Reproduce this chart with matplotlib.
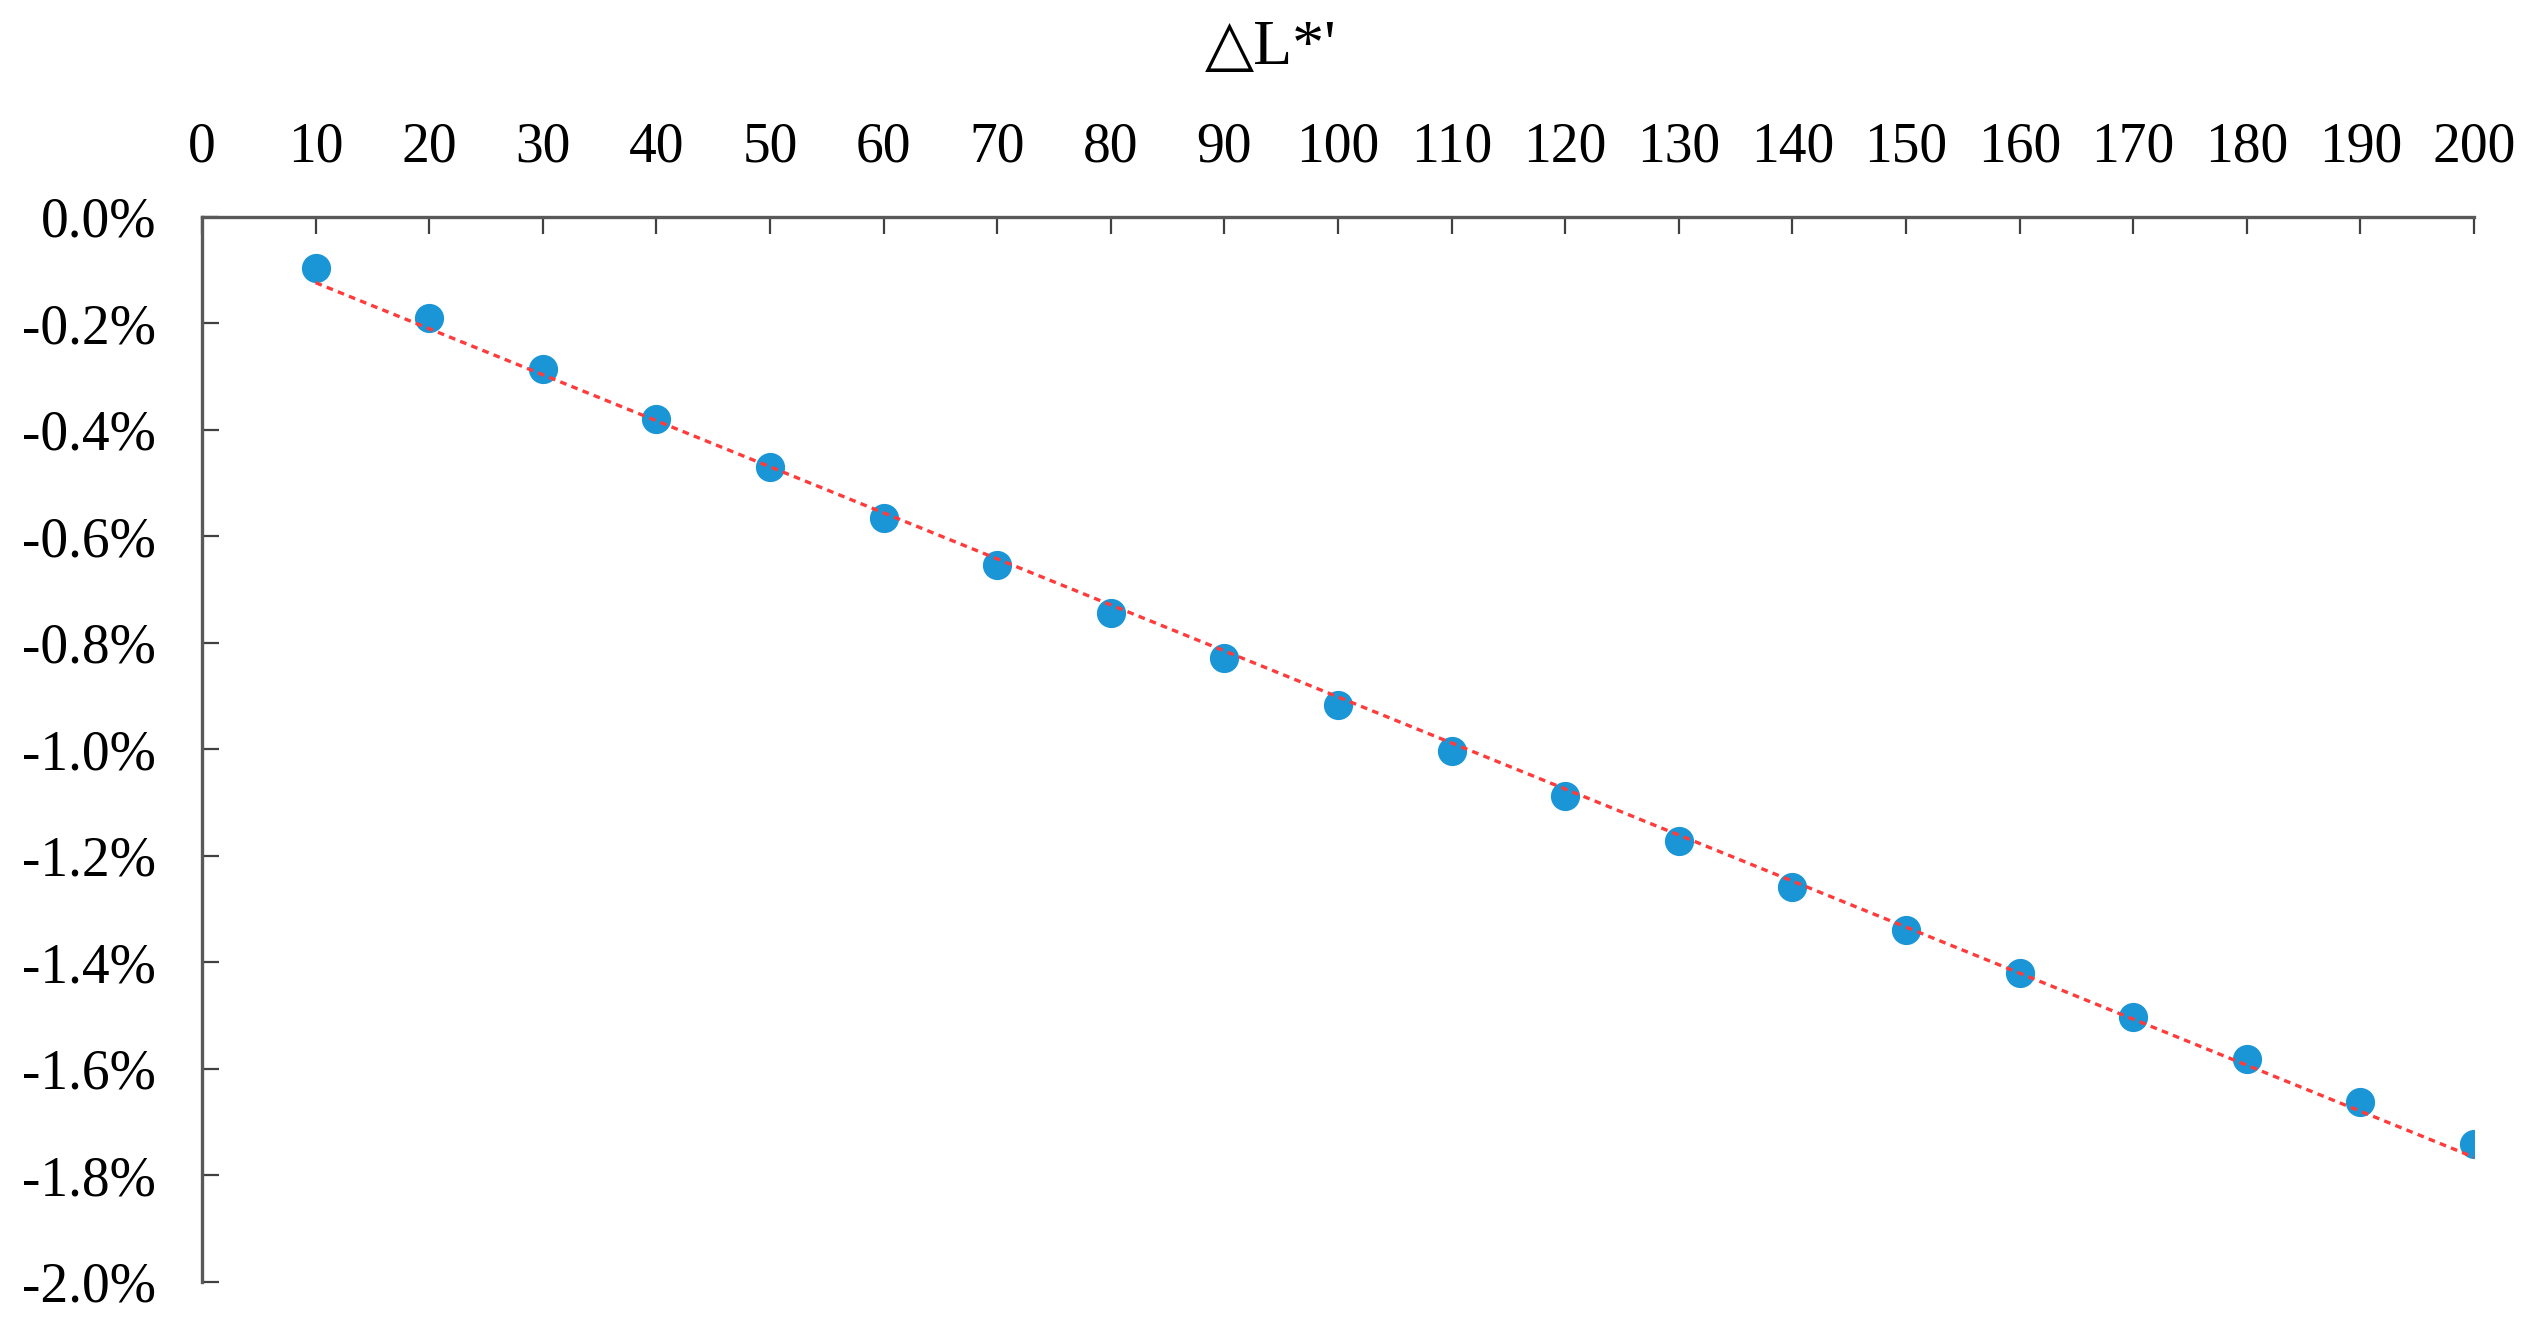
import numpy as np
import matplotlib
matplotlib.use("Agg")
import matplotlib.pyplot as plt

# data (percent)
dl = [10, 20, 30, 40, 50, 60, 70, 80, 90, 100,
      110, 120, 130, 140, 150, 160, 170, 180, 190, 200]
change = [-0.096, -0.190, -0.287, -0.380, -0.471, -0.565, -0.654, -0.744, -0.829, -0.917,
          -1.003, -1.088, -1.173, -1.258, -1.339, -1.421, -1.503, -1.581, -1.663, -1.741]
xticks = list(range(0, 201, 10))
yticks = [0.0, -0.2, -0.4, -0.6, -0.8, -1.0, -1.2, -1.4, -1.6, -1.8, -2.0]
title = "\u25b3L*'"

plt.rcParams['font.family'] = ['Liberation Serif', 'DejaVu Serif']
plt.rcParams['axes.unicode_minus'] = False

fig = plt.figure(figsize=(25.26, 13.29), dpi=100)
ax = fig.add_axes([0.07997, 0.03559, 0.9794 - 0.07997, 0.8370 - 0.03559])

ax.plot(dl, change, 'o', color='#1A95D6', ms=20, zorder=2)

# linear trend line
k, b = np.polyfit(dl, change, 1)
xs = np.array([dl[0], dl[-1]])
ax.plot(xs, k * xs + b, color='#FF3B3B', lw=2.4, dashes=(2.0, 1.6), zorder=3)

ax.set_xlim(0, 200)
ax.set_ylim(-2.0, 0.0)
ax.set_xticks(xticks)
ax.set_yticks(yticks)
ax.set_yticklabels(['%.1f%%' % v for v in yticks])

ax.xaxis.tick_top()
ax.tick_params(axis='x', direction='in', length=12, width=1.6, color='#404040',
               labelsize=40, pad=31, labelcolor='black')
ax.tick_params(axis='y', direction='in', length=12, width=1.6, color='#404040',
               labelsize=40, pad=33, labelcolor='black')

for s in ['right', 'bottom']:
    ax.spines[s].set_visible(False)
for s in ['left', 'top']:
    ax.spines[s].set_color('#595959')
    ax.spines[s].set_linewidth(2.4)

fig.text(0.503, 0.963, title, ha='center', va='center', fontsize=46)

fig.savefig('out.png', dpi=100, facecolor='white')
